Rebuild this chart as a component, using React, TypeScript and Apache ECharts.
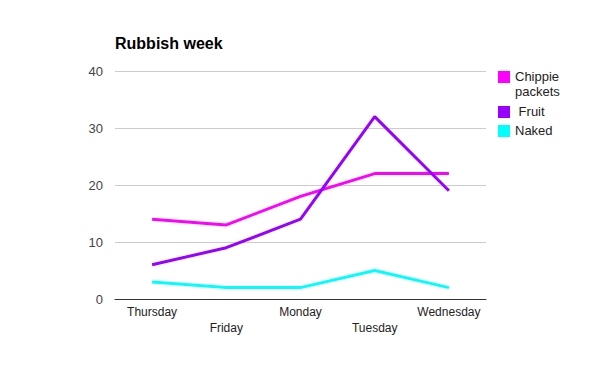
import React, { useEffect, useRef } from "react";
import * as echarts from "echarts";

const categories = ["Thursday", "Friday", "Monday", "Tuesday", "Wednesday"];
const seriesNames = ["Chippie packets", "Fruit", "Naked"];
const legendLabels = ["Chippie\npackets", " Fruit", "Naked"];
const chippie = [14, 13, 18, 22, 22];
const fruit = [6, 9, 14, 32, 19];
const naked = [3, 2, 2, 5, 2];
const colors = ["#ff00ff", "#9900ff", "#00ffff"];
const yTicks = [0, 10, 20, 30, 40];

export default function App() {
  const ref = useRef<HTMLDivElement>(null);
  useEffect(() => {
    if (!ref.current) return;
    const chart = echarts.init(ref.current, null, { renderer: "svg" });
    const font = "'Liberation Sans', Arial, sans-serif";
    const legendTops = [70, 105, 124];
    const graphic: any[] = [];
    legendLabels.forEach((l, i) => {
      graphic.push({
        type: "rect",
        left: 498,
        top: legendTops[i] + 1,
        shape: { width: 12, height: 12 },
        style: { fill: colors[i] },
      });
      graphic.push({
        type: "text",
        left: 515,
        top: legendTops[i] - 1,
        style: {
          text: l,
          fill: "#222",
          font: `13px ${font}`,
          lineHeight: 15,
        },
      });
    });
    chart.setOption({
      animation: false,
      textStyle: { fontFamily: font },
      title: {
        text: "Rubbish week",
        left: 115,
        top: 35,
        padding: 0,
        textStyle: { fontSize: 16, fontWeight: "bold", color: "#000", fontFamily: font },
      },
      grid: { left: 115, right: 114, top: 71, bottom: 72, containLabel: false },
      xAxis: {
        type: "category",
        data: categories,
        boundaryGap: true,
        axisLine: { lineStyle: { color: "#333", width: 1 } },
        axisTick: { show: false },
        axisLabel: {
          interval: 0,
          margin: 5,
          color: "#222",
          fontSize: 12,
          lineHeight: 16,
          formatter: (v: string, i: number) => (i % 2 === 1 ? "\n" + v : v),
        },
      },
      yAxis: {
        type: "value",
        min: yTicks[0],
        max: yTicks[yTicks.length - 1],
        interval: 10,
        axisLine: { show: false },
        axisTick: { show: false },
        splitLine: { lineStyle: { color: "#cccccc" } },
        axisLabel: { color: "#444", fontSize: 13, margin: 12 },
      },
      series: [chippie, fruit, naked].map((d, i) => ({
        name: seriesNames[i],
        type: "line",
        data: d,
        showSymbol: false,
        symbol: "none",
        lineStyle: { color: colors[i], width: 3 },
        itemStyle: { color: colors[i] },
      })),
      graphic,
    });
    return () => chart.dispose();
  }, []);
  return <div ref={ref} style={{ width: 600, height: 371, position: "absolute", left: 0, top: 0 }} />;
}
